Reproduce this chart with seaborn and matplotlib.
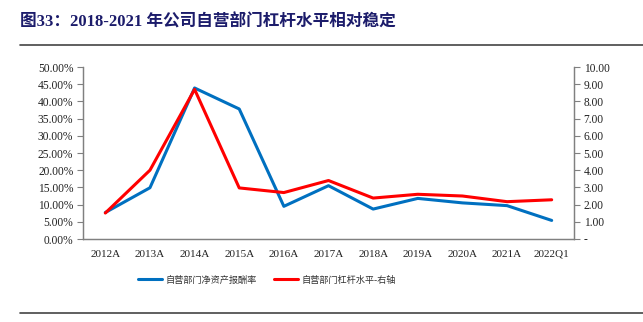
import matplotlib
matplotlib.use("Agg")
import matplotlib.pyplot as plt
import matplotlib.ticker as mticker
import matplotlib.transforms as mtransforms
from matplotlib.lines import Line2D
import seaborn as sns
import pandas as pd
import numpy as np

categories = ["2012A", "2013A", "2014A", "2015A", "2016A", "2017A",
              "2018A", "2019A", "2020A", "2021A", "2022Q1"]
roe = [7.7, 14.9, 43.9, 37.8, 9.5, 15.5, 8.7, 11.8, 10.5, 9.7, 5.4]
leverage = [1.51, 4.0, 8.7, 2.97, 2.7, 3.4, 2.38, 2.6, 2.5, 2.17, 2.28]
name_roe = "自营部门净资产报酬率"
name_lev = "自营部门杠杆水平-右轴"
title = "图33：2018-2021 年公司自营部门杠杆水平相对稳定"

sns.set_theme(style="white")
plt.rcParams['font.family'] = ['Liberation Serif', 'Noto Sans CJK SC', 'DejaVu Sans']

df = pd.DataFrame({"cat": categories, "x": np.arange(len(categories)),
                   "roe": roe, "lev": leverage})

fig = plt.figure(figsize=(6.43, 3.22), dpi=100)
ax = fig.add_axes([83/643, 1-239/322, (574-83)/643, (239-67)/322])
ax2 = ax.twinx()

blue = "#0070C0"
red = "#FF0000"
sns.lineplot(data=df, x="x", y="roe", ax=ax, color=blue, lw=2.2, legend=False)
sns.lineplot(data=df, x="x", y="lev", ax=ax2, color=red, lw=2.2, legend=False)

ax.set_xlim(-0.5, len(categories)-0.5)
ax.set_ylim(0, 50)
ax2.set_ylim(0, 10)
ax.set_yticks(np.arange(0, 50.01, 5))
ax.yaxis.set_major_formatter(mticker.FuncFormatter(lambda v, p: f"{v:.2f}%"))
ax2.set_yticks(np.arange(0, 10.01, 1))
ax2.yaxis.set_major_formatter(mticker.FuncFormatter(lambda v, p: "-" if abs(v) < 1e-9 else f"{v:.2f}"))

ax.set_xticks(np.arange(len(categories)))
ax.set_xticklabels(categories)
ax.set_xticks(np.arange(-0.5, len(categories)), minor=True)
ax.tick_params(axis='x', which='major', length=0, labelsize=8, pad=8, colors="#222222")
ax.tick_params(axis='x', which='minor', length=4, direction='in', color="#808080", width=0.8)
ax.tick_params(axis='y', length=4, direction='out', labelsize=8.3, pad=3, colors="#222222", color="#808080", width=0.8)
ax2.tick_params(axis='y', length=4, direction='out', labelsize=8.3, pad=3, colors="#222222", color="#808080", width=0.8)
for a in (ax, ax2):
    a.set_xlabel("")
    a.set_ylabel("")
    a.grid(False)
    for s in a.spines.values():
        s.set_color("#808080")
        s.set_linewidth(0.9)
    a.spines['top'].set_visible(False)

fig.text(20/643, 1-22/322, title, fontsize=12, fontweight='bold', color="#1C1C6B",
         va='center', ha='left')
fig.add_artist(Line2D([20/643, 1.0], [1-45/322, 1-45/322], color="#444444", lw=1.2))
fig.add_artist(Line2D([20/643, 1.0], [1-313/322, 1-313/322], color="#444444", lw=1.2))

handles = [Line2D([], [], color=blue, lw=2.2), Line2D([], [], color=red, lw=2.2)]
leg = fig.legend(handles, [name_roe, name_lev], ncol=2, frameon=False,
                 loc='center', bbox_to_anchor=(267/643, 1-280/322),
                 prop={'family': ['Noto Sans CJK SC'], 'size': 6.6},
                 handlelength=2.6, columnspacing=1.8, handletextpad=0.4)
for t in leg.get_texts():
    t.set_color("#333333")

# Align the ink of the last tick label (Q glyph renders with an offset) to its neighbours
fig.canvas.draw()
buf = np.array(fig.canvas.buffer_rgba())
H = buf.shape[0]


def ink_top(t):
    bb = t.get_window_extent()
    r0 = int(max(0, H - bb.y1 - 3))
    r1 = int(min(H, H - bb.y0 + 3))
    c0, c1 = int(bb.x0), int(np.ceil(bb.x1))
    reg = buf[r0:r1, c0:c1, :3].astype(int).sum(axis=2)
    rows = np.where((reg < 450).any(axis=1))[0]
    return r0 + rows[0] if len(rows) else None


labels = ax.get_xticklabels()
ref_top = ink_top(labels[-2])
last_top = ink_top(labels[-1])
if ref_top is not None and last_top is not None and last_top != ref_top:
    dy = last_top - ref_top
    lab = labels[-1]
    lab.set_transform(lab.get_transform() +
                      mtransforms.ScaledTranslation(0, dy / fig.dpi, fig.dpi_scale_trans))

fig.savefig("out.png", dpi=100)
